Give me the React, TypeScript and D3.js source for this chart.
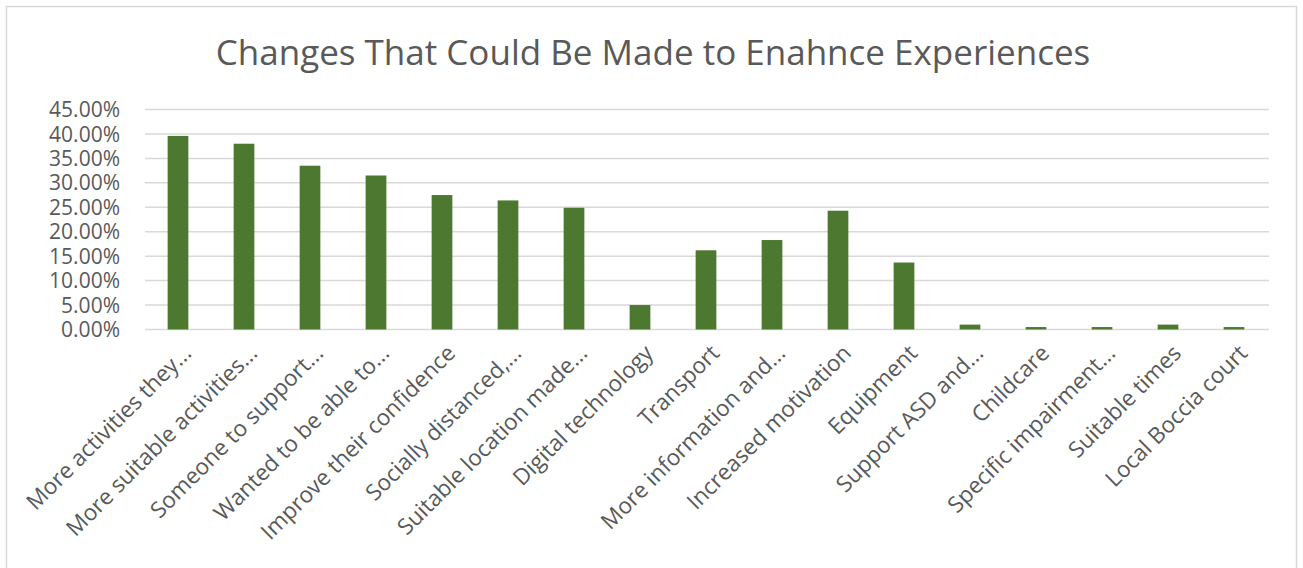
import React from "react";
import * as d3 from "d3";

const categories = [
  "More activities they...",
  "More suitable activities...",
  "Someone to support...",
  "Wanted to be able to...",
  "Improve their confidence",
  "Socially distanced,...",
  "Suitable location made...",
  "Digital technology",
  "Transport",
  "More information and...",
  "Increased motivation",
  "Equipment",
  "Support ASD and...",
  "Childcare",
  "Specific impairment...",
  "Suitable times",
  "Local Boccia court",
];
const values = [0.396, 0.38, 0.335, 0.315, 0.275, 0.264, 0.249, 0.05, 0.162, 0.183, 0.243, 0.137, 0.01, 0.005, 0.005, 0.01, 0.005];
const yTicks = [0, 0.05, 0.1, 0.15, 0.2, 0.25, 0.3, 0.35, 0.4, 0.45];
const title = "Changes That Could Be Made to Enahnce Experiences";

const W = 1303;
const H = 568;
const FONT = "'Open Sans', 'Noto Sans', sans-serif";
const TEXT = "#595959";

export default function App() {
  const x = d3.scaleBand<string>().domain(categories).range([145, 1267]).paddingInner(0.686).paddingOuter(0.343);
  const y = d3.scaleLinear().domain([0, 0.45]).range([329.5, 109.5]);
  const fmt = d3.format(".2%");
  return (
    <svg width={W} height={H} style={{ position: "absolute", left: 0, top: 0, background: "#fff" }}>
      <rect x={6.5} y={6.5} width={1290} height={600} fill="#fff" stroke="#d9d9d9" strokeWidth={1.5} />
      <text x={653} y={65} textAnchor="middle" fontFamily={FONT} fontSize={35} fill={TEXT}>{title}</text>
      {yTicks.map((t) => (
        <g key={t}>
          <line x1={145} x2={1269} y1={y(t)} y2={y(t)} stroke="#d9d9d9" strokeWidth={1.5} />
          <text x={120} y={y(t)} dy="0.36em" textAnchor="end" fontFamily={FONT} fontSize={21} fill={TEXT}>{fmt(t)}</text>
        </g>
      ))}
      {categories.map((c, i) => (
        <rect key={c} x={x(c)} y={y(values[i])} width={x.bandwidth()} height={y(0) - y(values[i])} fill="#4c7830" />
      ))}
      {categories.map((c) => {
        const cx = (x(c) as number) + x.bandwidth() / 2 + 9;
        const cy = 349;
        return (
          <text key={c} transform={`translate(${cx},${cy}) rotate(-45)`} textAnchor="end" dy="0.35em" fontFamily={FONT} fontSize={22.5} fill={TEXT}>{c}</text>
        );
      })}
    </svg>
  );
}
